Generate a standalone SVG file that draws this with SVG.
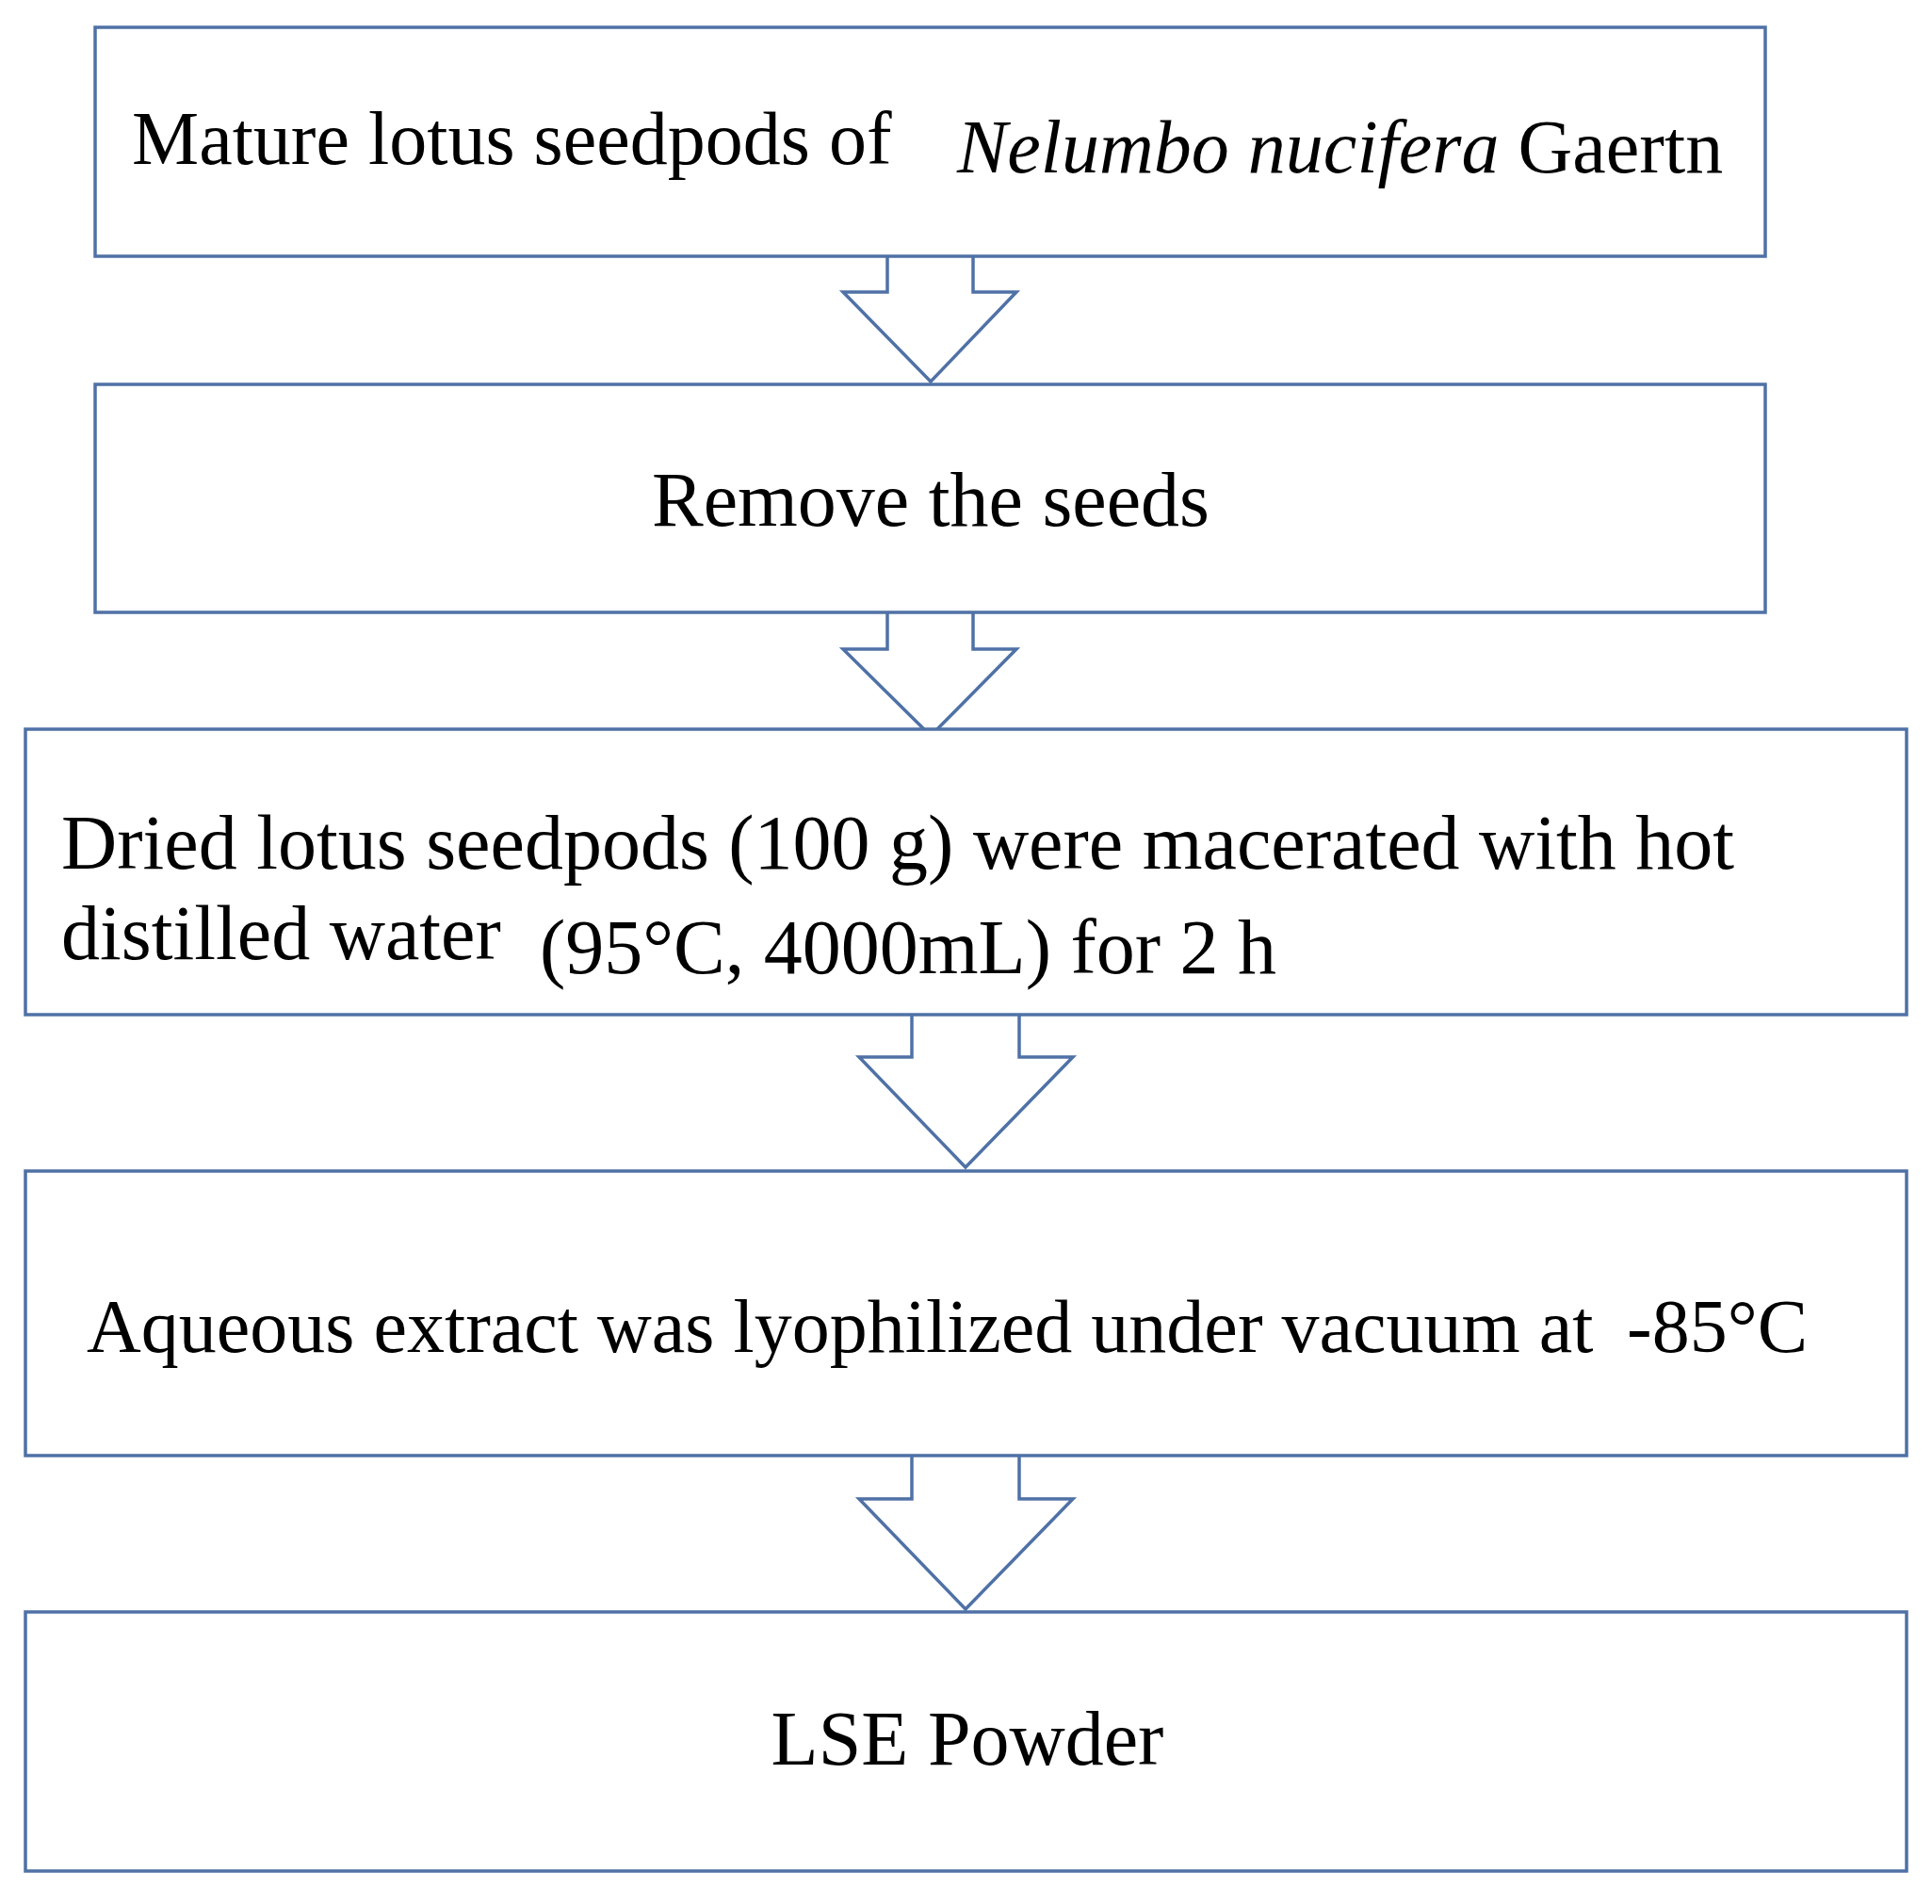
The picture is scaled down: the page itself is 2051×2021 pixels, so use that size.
<svg xmlns="http://www.w3.org/2000/svg" width="2051" height="2021" viewBox="0 0 2051 2021">
<style>
.b{fill:#fff;stroke:#4f71a6;stroke-width:3.5}
.a{fill:#fff;stroke:#4f71a6;stroke-width:3.5;stroke-linejoin:miter}
text{font-family:"Liberation Serif","Times New Roman",serif;font-size:82px;fill:#000}
.s{font-size:80px}
</style>
<rect width="2051" height="2021" fill="#fff"/>
<g id="connectors">
<path class="a" d="M942,272 V310 H895 L988,405 L1079,310 H1033 V272"/>
<path class="a" d="M942,650 V689 H895 L988,781 L1079,689 H1033 V650"/>
<path class="a" d="M968,1077 V1122 H912 L1025,1239 L1139,1122 H1082 V1077"/>
<path class="a" d="M968,1545 V1591 H912 L1025,1708 L1139,1591 H1082 V1545"/>
</g>
<g id="n1"><rect class="b" x="101" y="29" width="1773" height="243"/>
<text class="s" x="140" y="174">Mature lotus seedpods of</text>
<text class="s" x="1016" y="183"><tspan font-style="italic">Nelumbo nucifera</tspan> Gaertn</text></g>
<g id="n2"><rect class="b" x="101" y="408" width="1773" height="242"/>
<text x="988" y="558" text-anchor="middle">Remove the seeds</text></g>
<g id="n3"><rect class="b" x="27" y="774" width="1997" height="303"/>
<text x="65" y="922">Dried lotus seedpods (100 g) were macerated with hot</text>
<text x="65" y="1018">distilled water</text>
<text x="573" y="1033">(95°C, 4000mL) for 2 h</text></g>
<g id="n4"><rect class="b" x="27" y="1243" width="1997" height="302"/>
<text class="s" x="92" y="1435">Aqueous extract was lyophilized under vacuum at</text>
<text class="s" x="1727" y="1435">-85°C</text></g>
<g id="n5"><rect class="b" x="27" y="1711" width="1997" height="275"/>
<text x="1027" y="1873" text-anchor="middle">LSE Powder</text></g>
</svg>
